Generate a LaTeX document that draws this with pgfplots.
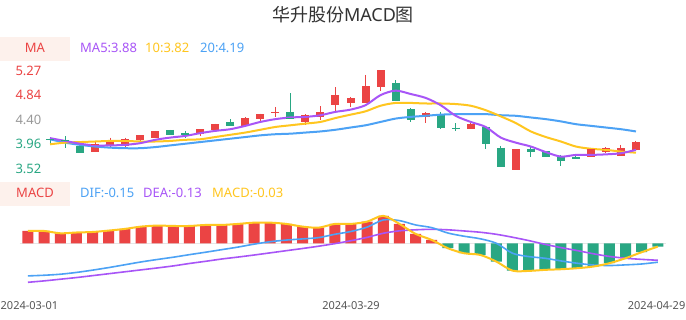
\documentclass[border=0pt]{standalone}
\usepackage{pgfplots}
\pgfplotsset{compat=1.18}
\usepackage{pgfplotstable}
\usepackage{fontspec}
\setmainfont{Noto Sans}
\newfontfamily\cjk{Noto Sans CJK SC}
\definecolor{cred}{HTML}{EB4444}
\definecolor{cgreen}{HTML}{29A783}
\definecolor{cpurple}{HTML}{A855F7}
\definecolor{cyellow}{HTML}{FFC61F}
\definecolor{cblue}{HTML}{4CA2F5}
\definecolor{cpink}{HTML}{FDF1EC}
\definecolor{cgray}{HTML}{999999}
\definecolor{ctext}{HTML}{555555}
\definecolor{ctitle}{HTML}{333333}
\definecolor{cgrid}{HTML}{E6E6E6}

\pgfplotstableread{
i o h l c
3 3.83 4.00 3.83 3.96
4 3.95 4.08 3.92 3.99
5 3.93 4.08 3.91 4.05
6 4.03 4.11 4.00 4.11
7 4.07 4.20 4.07 4.19
10 4.14 4.23 4.10 4.22
11 4.22 4.33 4.21 4.32
13 4.28 4.44 4.28 4.43
14 4.41 4.51 4.36 4.50
15 4.52 4.63 4.44 4.53
17 4.35 4.50 4.30 4.47
18 4.45 4.64 4.39 4.53
19 4.66 4.98 4.56 4.84
20 4.69 4.81 4.63 4.78
21 4.70 5.20 4.70 4.99
22 4.99 5.28 4.92 5.28
25 4.44 4.54 4.34 4.51
28 4.23 4.35 4.23 4.31
31 3.50 3.86 3.50 3.86
36 3.73 3.86 3.73 3.86
37 3.82 3.91 3.80 3.88
38 3.75 3.95 3.75 3.89
39 3.85 4.02 3.85 4.00
}\candUp

\pgfplotstableread{
i o h l c
0 4.05 4.09 3.96 4.04
1 4.03 4.10 3.90 4.02
2 3.93 3.93 3.80 3.82
8 4.22 4.22 4.12 4.14
9 4.17 4.20 4.08 4.13
12 4.36 4.41 4.28 4.29
16 4.54 4.87 4.41 4.43
23 5.06 5.11 4.75 4.75
24 4.59 4.61 4.36 4.41
26 4.48 4.54 4.23 4.26
27 4.26 4.34 4.19 4.25
29 4.27 4.27 3.87 3.98
30 3.90 3.93 3.57 3.57
32 3.88 3.92 3.73 3.83
33 3.84 3.84 3.73 3.75
34 3.74 3.77 3.58 3.67
35 3.73 3.75 3.69 3.70
}\candDown

\pgfplotstableread{
i ma5 ma10 ma20
0 4.07 3.96 4.05
1 4.02 3.99 3.99
2 3.97 4.00 3.95
3 3.94 4.01 3.92
4 3.94 4.02 3.90
5 3.95 4.02 3.89
6 3.98 4.01 3.89
7 4.04 4.01 3.91
8 4.08 4.02 3.94
9 4.11 4.04 3.97
10 4.16 4.05 4.00
11 4.20 4.09 4.03
12 4.23 4.13 4.06
13 4.29 4.17 4.09
14 4.36 4.22 4.12
15 4.41 4.27 4.14
16 4.44 4.30 4.15
17 4.45 4.33 4.17
18 4.48 4.36 4.19
19 4.54 4.43 4.22
20 4.58 4.49 4.26
21 4.66 4.55 4.30
22 4.84 4.65 4.36
23 4.92 4.70 4.42
24 4.86 4.70 4.45
25 4.79 4.69 4.47
26 4.66 4.69 4.49
27 4.47 4.68 4.50
28 4.36 4.65 4.50
29 4.27 4.57 4.50
30 4.08 4.46 4.48
31 3.99 4.34 4.47
32 3.92 4.19 4.44
33 3.82 4.09 4.41
34 3.74 4.01 4.37
35 3.77 3.92 4.32
36 3.77 3.88 4.29
37 3.78 3.86 4.26
38 3.80 3.83 4.23
39 3.86 3.81 4.19
}\maTable

\pgfplotstableread{
i m dif dea
0 0.096 -0.255 -0.305
1 0.096 -0.250 -0.294
2 0.078 -0.242 -0.281
3 0.084 -0.228 -0.268
4 0.088 -0.210 -0.253
5 0.099 -0.190 -0.238
6 0.112 -0.168 -0.223
7 0.130 -0.146 -0.208
8 0.138 -0.127 -0.193
9 0.135 -0.109 -0.177
10 0.135 -0.089 -0.158
11 0.143 -0.070 -0.141
12 0.143 -0.050 -0.123
13 0.151 -0.030 -0.108
14 0.161 -0.007 -0.092
15 0.161 0.012 -0.075
16 0.151 0.025 -0.058
17 0.130 0.034 -0.041
18 0.122 0.044 -0.023
19 0.151 0.070 -0.003
20 0.151 0.092 0.020
21 0.169 0.126 0.046
22 0.214 0.182 0.078
23 0.151 0.177 0.097
24 0.073 0.143 0.105
25 0.026 0.122 0.109
26 -0.039 0.080 0.105
27 -0.078 0.055 0.096
28 -0.091 0.035 0.086
29 -0.143 0.000 0.070
30 -0.214 -0.078 0.047
31 -0.216 -0.104 0.021
32 -0.208 -0.117 -0.008
33 -0.203 -0.138 -0.034
34 -0.195 -0.156 -0.057
35 -0.182 -0.170 -0.082
36 -0.156 -0.174 -0.103
37 -0.117 -0.169 -0.117
38 -0.070 -0.162 -0.126
39 -0.026 -0.148 -0.133
}\macdTable

\begin{document}
\begin{tikzpicture}
\useasboundingbox (0pt,0pt) rectangle (686pt,320pt);
\fill[white] (0pt,0pt) rectangle (686pt,320pt);

% title
\node[inner sep=0pt, text=ctitle] at (343pt,305.3pt) {\fontsize{18}{20}\selectfont\cjk 华升股份{\rmfamily MACD}图};

% MA header
\fill[cpink] (0pt,259pt) rectangle (70pt,283pt);
\node[inner sep=0pt, text=cred] at (35pt,271.7pt) {\fontsize{13}{15}\selectfont MA};
\node[inner sep=0pt, anchor=west, text=cpurple] at (80pt,271.7pt) {\fontsize{13}{15}\selectfont MA5:3.88};
\node[inner sep=0pt, anchor=west, text=cyellow] at (145pt,271.7pt) {\fontsize{13}{15}\selectfont 10:3.82};
\node[inner sep=0pt, anchor=west, text=cblue] at (200pt,271.7pt) {\fontsize{13}{15}\selectfont 20:4.19};

% MACD header
\fill[cpink] (0pt,114pt) rectangle (70pt,138pt);
\node[inner sep=0pt, text=cred] at (35pt,126.7pt) {\fontsize{13}{15}\selectfont MACD};
\node[inner sep=0pt, anchor=west, text=cblue] at (80pt,126.7pt) {\fontsize{13}{15}\selectfont DIF:-0.15};
\node[inner sep=0pt, anchor=west, text=cpurple] at (143pt,126.7pt) {\fontsize{13}{15}\selectfont DEA:-0.13};
\node[inner sep=0pt, anchor=west, text=cyellow] at (212pt,126.7pt) {\fontsize{13}{15}\selectfont MACD:-0.03};

% date labels
\node[inner sep=0pt, anchor=north west, text=ctext] at (0.5pt,19pt) {\fontsize{11}{13}\selectfont 2024-03-01};
\node[inner sep=0pt, anchor=north, text=ctext] at (351pt,19pt) {\fontsize{11}{13}\selectfont 2024-03-29};
\node[inner sep=0pt, anchor=north east, text=ctext] at (685.5pt,19pt) {\fontsize{11}{13}\selectfont 2024-04-29};

% ---------- candlestick panel ----------
\begin{axis}[
  at={(42.5pt,144.4pt)}, anchor=south west,
  width=601pt, height=112.9pt, scale only axis,
  xmin=-0.5, xmax=39.5, ymin=3.40, ymax=5.42,
  axis line style={draw=none}, tick style={draw=none},
  major tick length=0pt,
  xtick=\empty,
  ytick={3.52,3.96,4.40,4.84,5.27},
  yticklabels={\textcolor{cgreen}{3.52},\textcolor{cgreen}{3.96},\textcolor{cgray}{4.40},\textcolor{cred}{4.84},\textcolor{cred}{5.27}},
  yticklabel style={font=\fontsize{13}{15}\selectfont, inner sep=0pt, anchor=east, xshift=-1pt},
]
% wicks
\addplot[draw=none, mark=none, forget plot,
  error bars/.cd, y dir=minus, y explicit, error mark=none,
  error bar style={line width=1pt, draw=cred}]
  table[x=i, y=h, y error minus expr=\thisrow{h}-\thisrow{l}] {\candUp};
\addplot[draw=none, mark=none, forget plot,
  error bars/.cd, y dir=minus, y explicit, error mark=none,
  error bar style={line width=1pt, draw=cgreen}]
  table[x=i, y=h, y error minus expr=\thisrow{h}-\thisrow{l}] {\candDown};
% bodies
\addplot[draw=none, mark=none, forget plot,
  error bars/.cd, y dir=minus, y explicit, error mark=none,
  error bar style={line width=8pt, draw=cred}]
  table[x=i, y=c, y error minus expr=\thisrow{c}-\thisrow{o}] {\candUp};
\addplot[draw=none, mark=none, forget plot,
  error bars/.cd, y dir=minus, y explicit, error mark=none,
  error bar style={line width=8pt, draw=cgreen}]
  table[x=i, y=o, y error minus expr=\thisrow{o}-\thisrow{c}] {\candDown};
% close dashes (visible on doji)
\addplot[only marks, mark=-, mark size=4pt, mark options={line width=1pt, draw=cred}] table[x=i, y=c] {\candUp};
\addplot[only marks, mark=-, mark size=4pt, mark options={line width=1pt, draw=cgreen}] table[x=i, y=c] {\candDown};
% moving averages
\addplot[smooth, tension=0.5, line width=2pt, cblue, no marks] table[x=i, y=ma20] {\maTable};
\addplot[smooth, tension=0.5, line width=2pt, cyellow, no marks] table[x=i, y=ma10] {\maTable};
\addplot[smooth, tension=0.5, line width=2pt, cpurple, no marks] table[x=i, y=ma5] {\maTable};
\end{axis}

% ---------- MACD panel ----------
\begin{axis}[
  at={(19.9pt,34.5pt)}, anchor=south west,
  width=646pt, height=74.24pt, scale only axis,
  xmin=-0.5, xmax=39.5, ymin=-0.33, ymax=0.25,
  axis line style={draw=none}, tick style={draw=none},
  major tick length=0pt,
  ytick={0}, yticklabels={\mbox{}},
  ymajorgrids, major grid style={cgrid, line width=1pt},
  xtick=\empty,
  clip=false,
]
\addplot[ybar, bar width=11pt, bar shift=0pt, fill=cred, draw=none, restrict y to domain=0:10] table[x=i, y=m] {\macdTable};
\addplot[ybar, bar width=11pt, bar shift=0pt, fill=cgreen, draw=none, restrict y to domain=-10:0] table[x=i, y=m] {\macdTable};
\addplot[smooth, tension=0.5, line width=1.6pt, cpurple, no marks] table[x=i, y=dea] {\macdTable};
\addplot[smooth, tension=0.5, line width=1.6pt, cblue, no marks] table[x=i, y=dif] {\macdTable};
\addplot[smooth, tension=0.5, line width=2pt, cyellow, no marks] table[x=i, y=m] {\macdTable};
\end{axis}
\end{tikzpicture}
\end{document}
